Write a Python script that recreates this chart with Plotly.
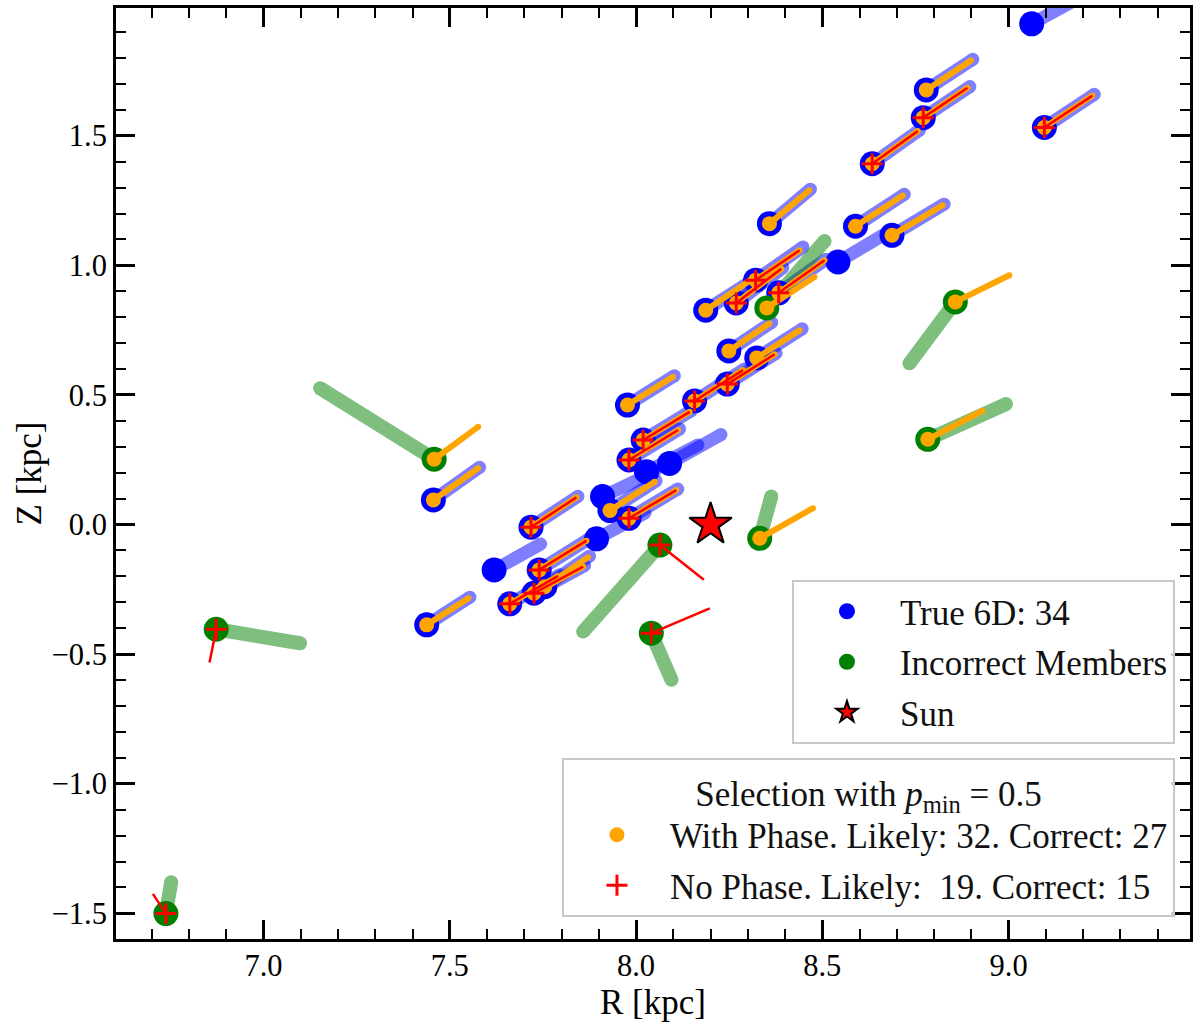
import plotly.graph_objects as go

FONT = "Liberation Serif"

# ---- true 6D members (34): position, true velocity tip offset ----
true_R = [9.062, 8.542, 8.090, 8.028, 7.910, 7.894, 7.619,
          8.779, 8.771, 9.096, 8.634, 8.358, 8.589, 8.687, 8.187, 8.321, 8.269,
          8.383, 8.249, 8.324, 8.245, 8.157, 7.977, 8.019, 7.981, 7.930, 7.981,
          7.718, 7.740, 7.755, 7.726, 7.661, 7.456, 7.438]
true_Z = [1.932, 1.013, 0.236, 0.204, 0.108, -0.055, -0.175,
          1.677, 1.570, 1.532, 1.392, 1.161, 1.151, 1.116, 0.827, 0.943, 0.855,
          0.894, 0.670, 0.643, 0.542, 0.477, 0.461, 0.326, 0.249, 0.054, 0.024,
          -0.010, -0.175, -0.240, -0.265, -0.306, 0.095, -0.387]
true_dR = [0.140, 0.120, 0.138, 0.138, 0.140, 0.130, 0.125,
           0.125, 0.125, 0.134, 0.127, 0.110, 0.131, 0.140, 0.130, 0.127, 0.125,
           0.127, 0.115, 0.122, 0.131, 0.134, 0.126, 0.129, 0.136, 0.124, 0.131,
           0.126, 0.131, 0.120, 0.136, 0.134, 0.124, 0.116]
true_dZ = [0.110, 0.103, 0.111, 0.103, 0.095, 0.100, 0.100,
           0.118, 0.120, 0.128, 0.130, 0.133, 0.123, 0.120, 0.120, 0.128, 0.136,
           0.130, 0.110, 0.112, 0.119, 0.123, 0.113, 0.113, 0.120, 0.115, 0.113,
           0.119, 0.117, 0.118, 0.107, 0.112, 0.126, 0.107]

# with-phase estimate for true members (None = not selected)
phase_dR = [None, None, None, None, None, None, None,
            0.120, 0.119, 0.129, 0.122, 0.107, 0.127, 0.136, 0.118, 0.118, 0.121,
            0.123, 0.109, 0.115, 0.127, 0.130, 0.122, 0.125, 0.132, 0.120, 0.127,
            0.122, 0.127, 0.116, 0.132, 0.130, 0.120, 0.112]
phase_dZ = [None, None, None, None, None, None, None,
            0.113, 0.115, 0.123, 0.126, 0.129, 0.119, 0.116, 0.114, 0.115, 0.132,
            0.126, 0.106, 0.107, 0.115, 0.119, 0.109, 0.109, 0.116, 0.111, 0.109,
            0.115, 0.113, 0.114, 0.103, 0.108, 0.122, 0.103]

# no-phase estimate for true members (None = not selected)
nophase_dR = [None, None, None, None, None, None, None,
              None, 0.119, 0.129, 0.122, None, None, None, None, 0.118, 0.121,
              0.123, None, None, 0.127, 0.130, None, 0.125, 0.132, None, 0.127,
              0.122, 0.127, None, 0.132, 0.130, None, None]
nophase_dZ = [None, None, None, None, None, None, None,
              None, 0.115, 0.123, 0.126, None, None, None, None, 0.115, 0.132,
              0.126, None, None, 0.115, 0.119, None, 0.109, 0.116, None, 0.109,
              0.115, 0.113, None, 0.103, 0.108, None, None]

# ---- incorrect members (9) ----
bad_R = [8.351, 7.458, 8.857, 8.783, 8.332, 8.064, 8.041, 6.873, 6.738]
bad_Z = [0.836, 0.252, 0.859, 0.329, -0.053, -0.079, -0.419, -0.404, -1.501]
bad_dR = [0.155, -0.306, -0.123, 0.210, 0.031, -0.206, 0.054, 0.225, 0.014]
bad_dZ = [0.258, 0.274, -0.237, 0.136, 0.161, -0.334, -0.180, -0.054, 0.121]
bad_phase_dR = [0.128, 0.118, 0.145, 0.147, 0.143, None, None, None, None]
bad_phase_dZ = [0.119, 0.125, 0.103, 0.110, 0.116, None, None, None, None]
bad_nophase_dR = [None, None, None, None, None, 0.118, 0.157, -0.018, -0.035]
bad_nophase_dZ = [None, None, None, None, None, -0.134, 0.096, -0.128, 0.076]

sun_R = [8.2]
sun_Z = [0.0]

n_true = len(true_R)
n_phase = sum(v is not None for v in phase_dR + bad_phase_dR)
n_phase_ok = sum(v is not None for v in phase_dR)
n_nophase = sum(v is not None for v in nophase_dR + bad_nophase_dR)
n_nophase_ok = sum(v is not None for v in nophase_dR)


def segments(fig, R, Z, dR, dZ, color, width, opacity=1.0, caps=True):
    for r, z, dr, dz in zip(R, Z, dR, dZ):
        if dr is None:
            continue
        fig.add_trace(go.Scatter(
            x=[r, r + dr], y=[z, z + dz],
            mode="lines+markers" if caps else "lines",
            line=dict(color=color, width=width),
            marker=dict(color=color, size=width),
            opacity=opacity, showlegend=False, hoverinfo="skip"))


def pick(R, Z, d):
    xs = [r for r, v in zip(R, d) if v is not None]
    ys = [z for z, v in zip(Z, d) if v is not None]
    return xs, ys


fig = go.Figure()

# true velocity vectors
segments(fig, true_R, true_Z, true_dR, true_dZ, "blue", 13, opacity=0.5)
segments(fig, bad_R, bad_Z, bad_dR, bad_dZ, "green", 14, opacity=0.5)

fig.add_trace(go.Scatter(x=true_R, y=true_Z, mode="markers",
                         marker=dict(color="blue", size=25),
                         name=f"True 6D: {n_true}", legend="legend",
                         legendgroup="a", hoverinfo="skip"))
fig.add_trace(go.Scatter(x=bad_R, y=bad_Z, mode="markers",
                         marker=dict(color="green", size=25),
                         name="Incorrect Members", legend="legend",
                         legendgroup="b", hoverinfo="skip"))

# with-phase estimates
segments(fig, true_R, true_Z, phase_dR, phase_dZ, "orange", 6)
segments(fig, bad_R, bad_Z, bad_phase_dR, bad_phase_dZ, "orange", 6)
px1, py1 = pick(true_R + bad_R, true_Z + bad_Z, phase_dR + bad_phase_dR)
fig.add_trace(go.Scatter(x=px1, y=py1, mode="markers",
                         marker=dict(color="orange", size=15),
                         name=f"With Phase. Likely: {n_phase}. Correct: {n_phase_ok}",
                         legend="legend2", legendgroup="d", hoverinfo="skip"))

# no-phase estimates
segments(fig, true_R, true_Z, nophase_dR, nophase_dZ, "red", 2.5, caps=False)
segments(fig, bad_R, bad_Z, bad_nophase_dR, bad_nophase_dZ, "red", 2.5, caps=False)
px2, py2 = pick(true_R + bad_R, true_Z + bad_Z, nophase_dR + bad_nophase_dR)
fig.add_trace(go.Scatter(x=px2, y=py2, mode="markers",
                         marker=dict(symbol="cross-thin", size=15,
                                     line=dict(color="red", width=3)),
                         name=f"No Phase. Likely:\u00a0 {n_nophase}. Correct: {n_nophase_ok}",
                         legend="legend2", legendgroup="e", hoverinfo="skip"))

fig.add_trace(go.Scatter(x=sun_R, y=sun_Z, mode="markers",
                         marker=dict(symbol="star", size=32, color="red",
                                     line=dict(color="black", width=2)),
                         name="Sun", legend="legend", legendgroup="c",
                         hoverinfo="skip"))

axis = dict(showline=True, linewidth=3, linecolor="black", mirror="allticks",
            ticks="inside", ticklen=19, tickwidth=2.5, tickcolor="black",
            showgrid=False, zeroline=False, automargin=False,
            tickfont=dict(family=FONT, size=30.5, color="black"),
            minor=dict(ticks="inside", ticklen=10, tickwidth=2,
                       tickcolor="black", dtick=0.1, showgrid=False))

leg = dict(font=dict(family=FONT, size=35, color="#111"),
           bgcolor="rgba(255,255,255,0.8)", bordercolor="#c8c8c8",
           borderwidth=2, xanchor="right", yanchor="top", itemwidth=96,
           traceorder="grouped", tracegroupgap=2)

fig.update_layout(
    width=1200, height=1031,
    margin=dict(l=116, r=10, t=8, b=92),
    plot_bgcolor="white", paper_bgcolor="white",
    xaxis=dict(axis, range=[6.604, 9.487], tick0=7.0, dtick=0.5,
               tickformat=".1f", ticklabelstandoff=-3,
               title=dict(text="R [kpc]", standoff=2,
                          font=dict(family=FONT, size=35, color="black"))),
    yaxis=dict(axis, range=[-1.599, 1.993], tick0=0, dtick=0.5,
               tickformat=".1f",
               title=dict(text="Z [kpc]", standoff=0,
                          font=dict(family=FONT, size=35, color="black"))),
    legend=dict(leg, x=0.986, y=0.3856),
    legend2=dict(leg, x=0.986, y=0.1944,
                 title=dict(text="Selection with <i>p</i><sub>min</sub> = 0.5",
                            side="top center",
                            font=dict(family=FONT, size=35, color="#111"))),
)

fig.write_html("out.html", config={"displayModeBar": False},
               post_script="document.body.style.margin='0';")
